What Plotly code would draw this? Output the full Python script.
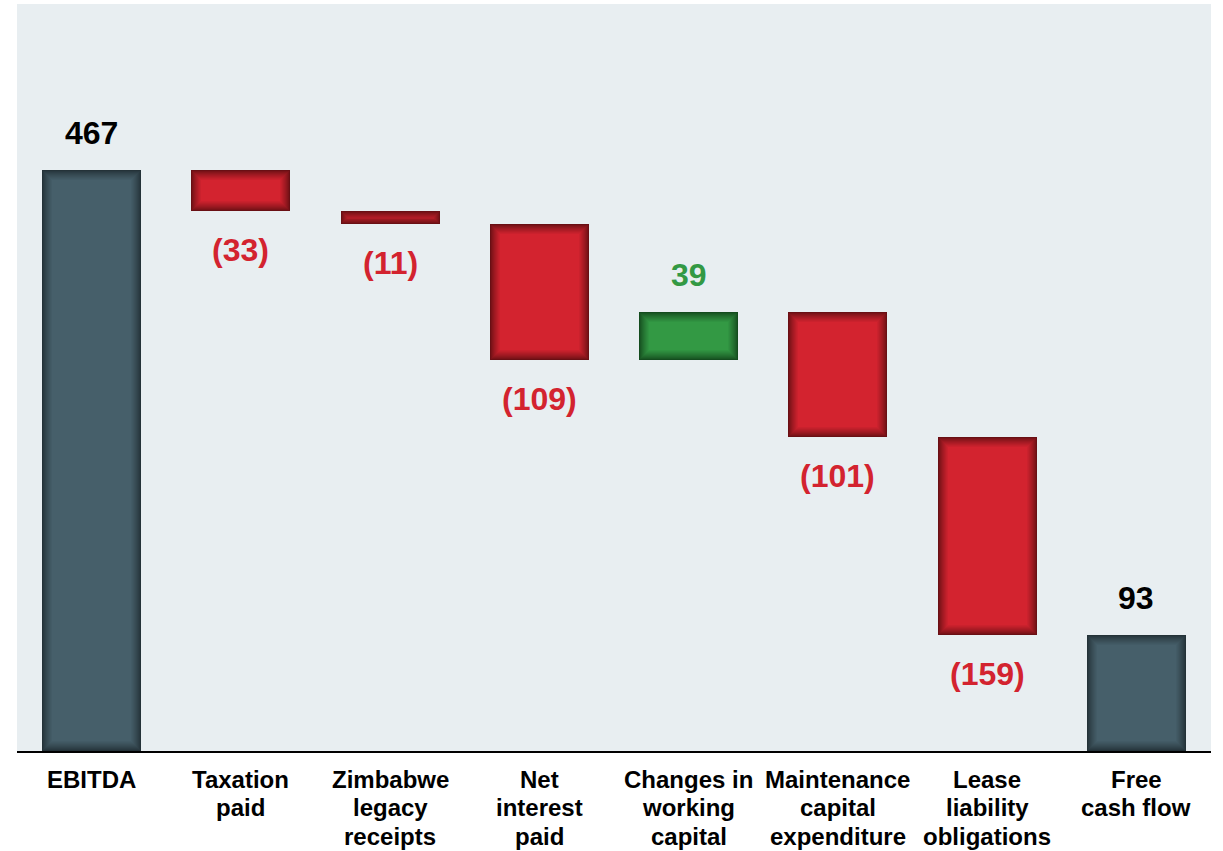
import plotly.graph_objects as go

# Free cash flow bridge (US$ million)
categories = [
    "EBITDA",
    "Taxation<br>paid",
    "Zimbabwe<br>legacy<br>receipts",
    "Net<br>interest<br>paid",
    "Changes in<br>working<br>capital",
    "Maintenance<br>capital<br>expenditure",
    "Lease<br>liability<br>obligations",
    "Free<br>cash flow",
]
values = [467, -33, -11, -109, 39, -101, -159, 93]
kinds = ["total", "delta", "delta", "delta", "delta", "delta", "delta", "total"]
labels = ["467", "(33)", "(11)", "(109)", "39", "(101)", "(159)", "93"]

# Palette: (face colour, shaded edge colour)
SLATE = ((70, 95, 106), (36, 50, 56))
RED = ((211, 35, 47), (105, 15, 20))
GREEN = ((51, 153, 68), (20, 76, 30))
LABEL_RED = "#d3232f"
LABEL_GREEN = "#339944"

Y_MAX = 600
BAR_WIDTH = 0.663
PLOT_W_PX = 1194
PLOT_H_PX = 747
PX_X = len(categories) / PLOT_W_PX     # category units per pixel
PX_Y = Y_MAX / PLOT_H_PX               # value units per pixel
LAYERS = 10

# bar extents
bases, tops = [], []
running = 0
for v, k in zip(values, kinds):
    if k == "total":
        lo, hi = 0, v
        running = v
    else:
        lo, hi = sorted((running, running + v))
        running += v
    bases.append(lo)
    tops.append(hi)


def palette_for(v, k):
    if k == "total":
        return SLATE
    return GREEN if v > 0 else RED


def mix(a, b, t):
    return "rgb({},{},{})".format(*[round(a[i] + (b[i] - a[i]) * t) for i in range(3)])


fig = go.Figure()

# Each bar is drawn as nested rings, darkest on the outside, for an inset-shadow look
for layer in range(LAYERS + 1):
    t = (layer / LAYERS) ** 0.8
    xs, ys, bs, ws, cs = [], [], [], [], []
    for i, (v, k) in enumerate(zip(values, kinds)):
        lo = bases[i] + layer * PX_Y
        hi = tops[i] - layer * PX_Y
        w = BAR_WIDTH - 2 * layer * PX_X
        if hi - lo <= PX_Y * 1.5:
            continue
        face, edge = palette_for(v, k)
        xs.append(categories[i])
        bs.append(lo)
        ys.append(hi - lo)
        ws.append(w)
        cs.append(mix(edge, face, t))
    fig.add_trace(go.Bar(
        x=xs, y=ys, base=bs, width=ws,
        marker=dict(color=cs, line=dict(width=0)),
        hoverinfo="skip", showlegend=False,
    ))

# value labels
for i, (v, k) in enumerate(zip(values, kinds)):
    if k == "total":
        color, y, shift = "black", tops[i], 37
    elif v > 0:
        color, y, shift = LABEL_GREEN, tops[i], 37
    else:
        color, y, shift = LABEL_RED, bases[i], -39
    fig.add_annotation(
        x=categories[i], y=y, text=labels[i], showarrow=False,
        yanchor="middle", yshift=shift,
        font=dict(family="Liberation Sans", size=32, color=color, weight="bold"),
    )

# category labels, one line at a time for tighter line spacing
for cat in categories:
    for j, line in enumerate(cat.split("<br>")):
        fig.add_annotation(
            x=cat, y=0, text=line, showarrow=False,
            yanchor="middle", yshift=-28 - 28.5 * j,
            font=dict(family="Liberation Sans", size=24, color="black", weight="bold"),
        )

fig.update_layout(
    width=1223, height=851,
    margin=dict(l=17, r=12, t=4, b=100),
    paper_bgcolor="white",
    plot_bgcolor="#e8eef1",
    barmode="overlay",
    bargap=0,
    font=dict(family="Liberation Sans", color="black"),
)
fig.update_xaxes(
    categoryorder="array", categoryarray=categories,
    showline=True, linecolor="black", linewidth=2,
    ticks="", showgrid=False, showticklabels=False,
)
fig.update_yaxes(range=[0, Y_MAX], visible=False, showgrid=False)

fig.write_html("out.html")
